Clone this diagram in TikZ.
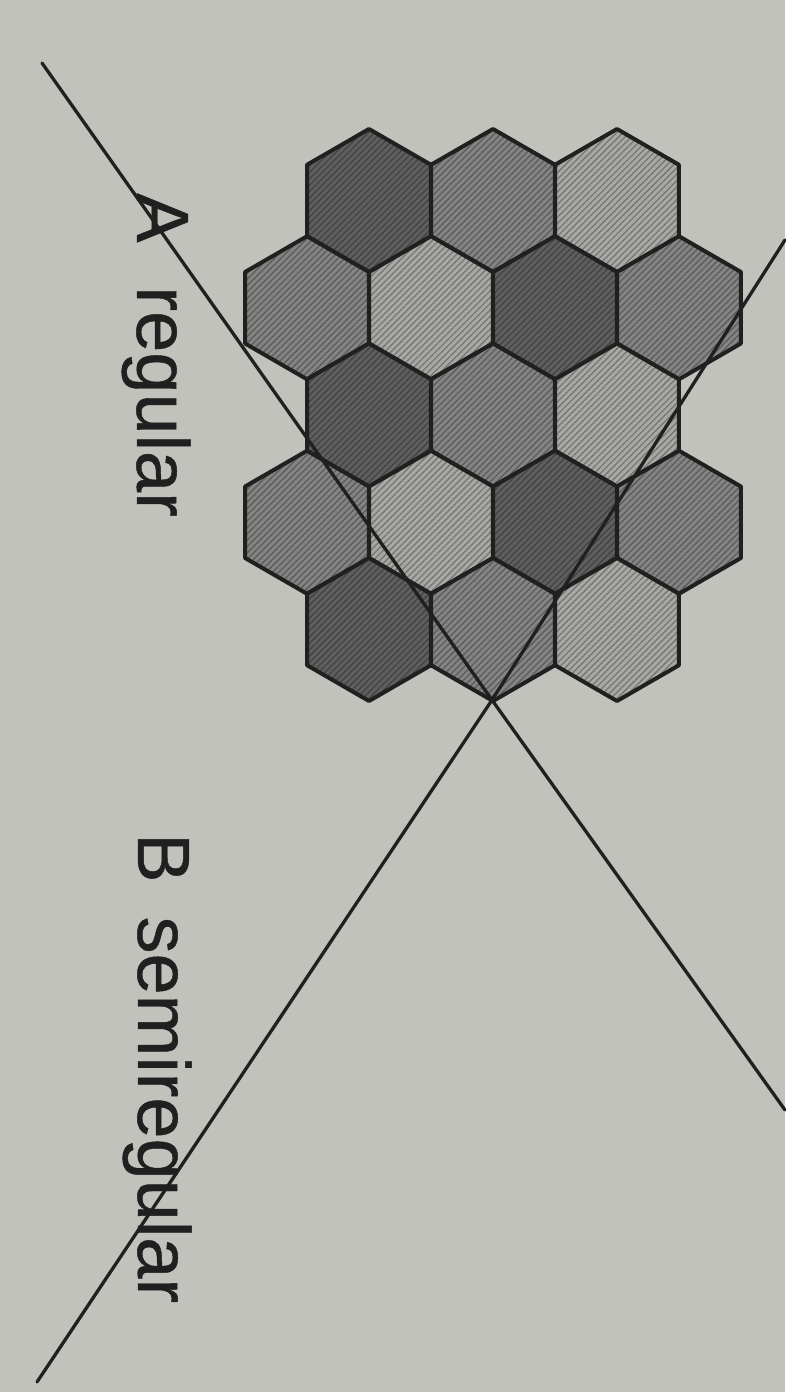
\documentclass[tikz,border=0pt]{standalone}
\usepackage{fontspec}
\setmainfont{Liberation Sans}
\newfontfamily\labfont[FakeBold=0.6]{Liberation Sans}
\usetikzlibrary{patterns.meta}
\definecolor{paper}{RGB}{194,194,189}
\definecolor{ink}{RGB}{32,32,32}
\definecolor{hdark}{RGB}{95,95,95}
\definecolor{hmid}{RGB}{132,132,131}
\definecolor{hlight}{RGB}{168,168,164}
\tikzset{
  cell/.style={draw=ink, line width=4pt, line join=round,
    preaction={fill=#1},
    preaction={pattern={Lines[angle=45,distance=4.5pt,line width=1.3pt]}, pattern color=#1!70!black}},
  crossline/.style={draw=ink, line width=3.3pt, line cap=round},
  label/.style={font=\labfont\fontsize{74}{80}\selectfont, text=ink, rotate=-90, anchor=base west, inner sep=0pt}
}
\newcommand\hexcell[3]{%
  \path (#1,#2) coordinate (hc);
  \path[cell=#3] (hc) +(30:71.5) -- +(90:71.5) -- +(150:71.5) -- +(210:71.5) -- +(270:71.5) -- +(330:71.5) -- cycle;
}
\begin{document}
\begin{tikzpicture}[x=1pt,y=-1pt]
\fill[paper] (0,0) rectangle (785,1392);
\useasboundingbox (0,0) rectangle (785,1392);
% row 1
\hexcell{369}{200.5}{hdark}
\hexcell{493}{200.5}{hmid}
\hexcell{617}{200.5}{hlight}
% row 2
\hexcell{307}{307.75}{hmid}
\hexcell{431}{307.75}{hlight}
\hexcell{555}{307.75}{hdark}
\hexcell{679}{307.75}{hmid}
% row 3
\hexcell{369}{415}{hdark}
\hexcell{493}{415}{hmid}
\hexcell{617}{415}{hlight}
% row 4
\hexcell{307}{522.25}{hmid}
\hexcell{431}{522.25}{hlight}
\hexcell{555}{522.25}{hdark}
\hexcell{679}{522.25}{hmid}
% row 5
\hexcell{369}{629.5}{hdark}
\hexcell{493}{629.5}{hmid}
\hexcell{617}{629.5}{hlight}
% crossing lines
\coordinate (X) at (492,700);
\coordinate (a1) at (42,63);
\coordinate (a2) at (785,1110);
\coordinate (b1) at (785,240);
\coordinate (b2) at (37,1382);
\draw[crossline] (a1) -- (X) -- (a2);
\draw[crossline] (b1) -- (X) -- (b2);
% labels
\node[label] (labA) at (137,193) {A\hspace{44pt}regular};
\node[label] (labB) at (138,833) {B\hspace{34pt}semiregular};
\end{tikzpicture}
\end{document}
